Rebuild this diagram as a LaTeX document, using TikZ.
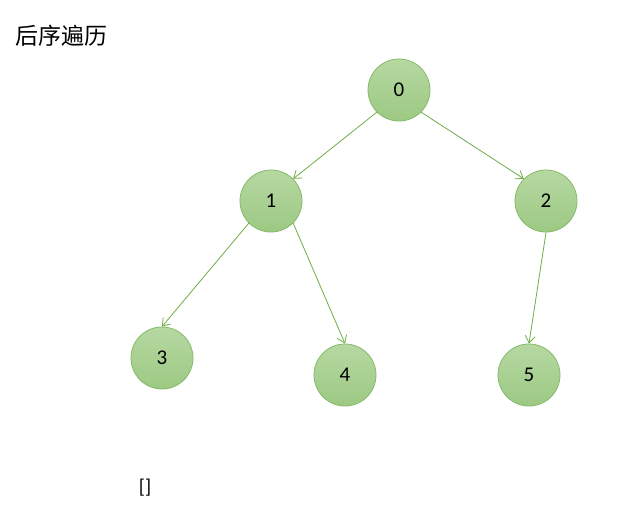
\documentclass[tikz,border=0pt]{standalone}
\usepackage{fontspec}
\setmainfont{Carlito}
\newfontfamily\cjk{Noto Sans CJK SC}
\usepackage{xcolor}
\definecolor{arbreVertHaut}{HTML}{B6D8A2}
\definecolor{arbreVertBas}{HTML}{9CC983}
\definecolor{arbreVertTrait}{HTML}{86BA68}
\definecolor{arbreVertFleche}{HTML}{70AD47}
\usetikzlibrary{arrows.meta, positioning}
\tikzset{
  %% ── Nodes ────────────────────────────────────────────────────────────
  noeud/.style      = {circle, minimum size=62pt, inner sep=0pt,
                       top color=arbreVertHaut, bottom color=arbreVertBas,
                       draw=arbreVertTrait, line width=0.8pt,
                       font=\fontsize{21}{24}\selectfont},
  %%
  %% ── Arrows ───────────────────────────────────────────────────────────
  fleche/.style     = {-{Straight Barb[length=7pt, width=10pt]},
                       draw=arbreVertFleche, line width=0.8pt},
  %%
  %% ── Text ─────────────────────────────────────────────────────────────
  titre/.style      = {font=\cjk\fontsize{23}{26}\selectfont, anchor=west,
                       inner sep=0pt},
  liste/.style      = {font=\fontsize{20}{24}\selectfont, inner sep=0pt},
}

\begin{document}
\begin{tikzpicture}[x=1pt, y=-1pt]

\useasboundingbox[fill=white] (0, 0) rectangle (634, 531);

\node[titre] (titre) at (15, 36) {后序遍历};

\node[noeud] (n0) at (399, 90)  {0};
\node[noeud] (n1) at (271, 201) {1};
\node[noeud] (n2) at (546, 201) {2};
\node[noeud] (n3) at (162, 358) {3};
\node[noeud] (n4) at (345, 375) {4};
\node[noeud] (n5) at (529, 375) {5};

\draw[fleche] (n0.south west) -- (n1.north east);
\draw[fleche] (n0.south east) -- (n2.north west);
\draw[fleche] (n1.south west) -- (n3.north);
\draw[fleche] (n1.south east) -- (n4.north);
\draw[fleche] (n2.south) -- (n5.north);

\node[liste] (pile) at (145, 488) {[]};

\end{tikzpicture}
\end{document}
